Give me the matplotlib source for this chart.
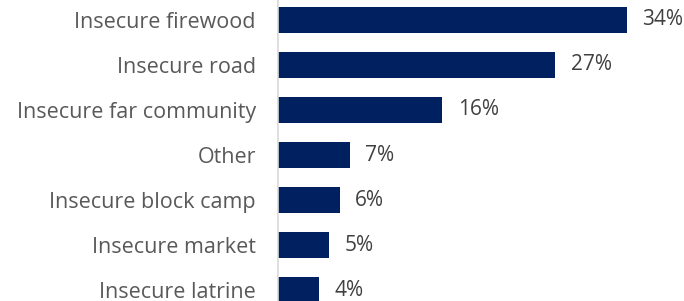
import matplotlib
matplotlib.use("Agg")
import matplotlib.pyplot as plt

# Data
categories = [
    "Insecure firewood",
    "Insecure road",
    "Insecure far community",
    "Other",
    "Insecure block camp",
    "Insecure market",
    "Insecure latrine",
]
values = [34, 27, 16, 7, 6, 5, 4]

plt.rcParams["font.family"] = ["Open Sans", "DejaVu Sans"]

fig = plt.figure(figsize=(6.84, 3.01), dpi=100)
ax = fig.add_axes([278 / 684, 0, 390 / 684, 1])

pos = list(range(len(categories)))
ax.barh(pos, values, height=0.58, color="#002060")

for y, v in zip(pos, values):
    ax.text(v + 1.5, y, f"{v}%", va="center", ha="left", fontsize=15, color="#404040")

ax.set_xlim(0, 38)
ax.set_ylim(6.244, -0.444)
ax.set_yticks(pos)
ax.set_yticklabels(categories, fontsize=15.5, color="#595959")
ax.tick_params(axis="y", length=0, pad=16)
ax.set_xticks([])

for side in ["top", "right", "bottom"]:
    ax.spines[side].set_visible(False)
ax.spines["left"].set_color("#d9d9d9")
ax.spines["left"].set_linewidth(1.2)

fig.savefig("out.png", dpi=100)
